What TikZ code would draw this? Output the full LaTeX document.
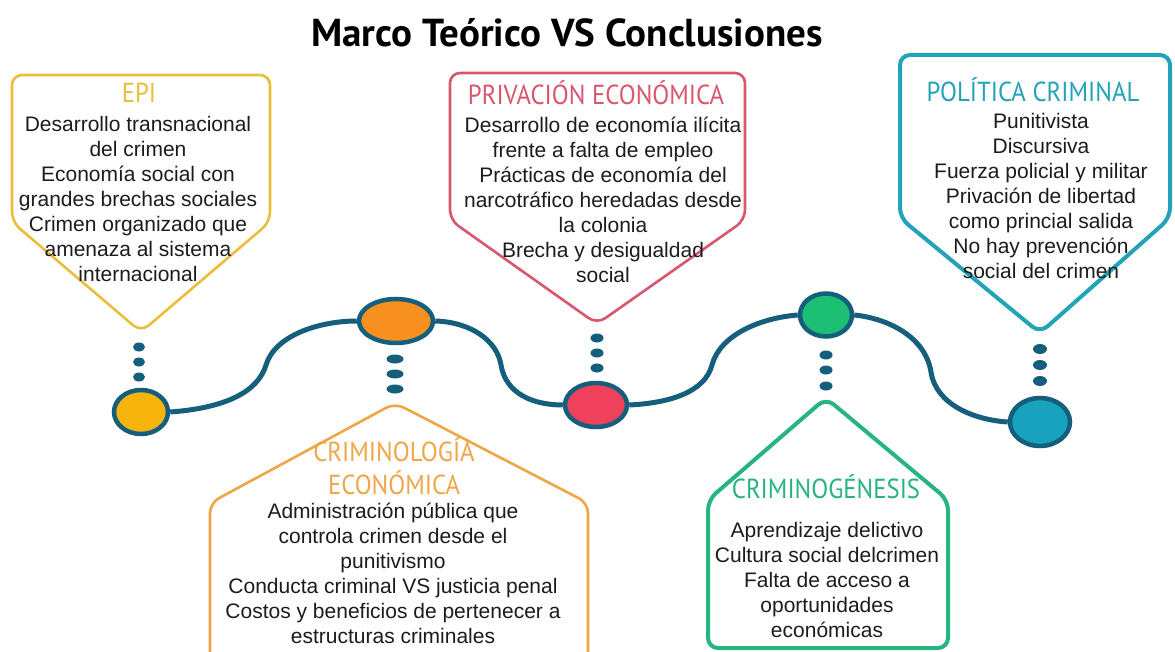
\documentclass[tikz,border=0pt]{standalone}
\usepackage{fontspec}
\setmainfont{Liberation Sans}
\newfontfamily\headfont{PT Sans}
\usepackage{xcolor}
\usepackage{tikz}
\usetikzlibrary{shapes.geometric}
\definecolor{wire}{HTML}{155E7C}
\definecolor{ink}{HTML}{1C1C1C}
\definecolor{gold}{HTML}{EBBE3A}
\definecolor{goldfill}{HTML}{F6B40C}
\definecolor{rose}{HTML}{D8566E}
\definecolor{rosefill}{HTML}{EF405C}
\definecolor{teal}{HTML}{22A3B7}
\definecolor{tealfill}{HTML}{17A2BF}
\definecolor{amber}{HTML}{F0A646}
\definecolor{amberfill}{HTML}{F7901E}
\definecolor{mint}{HTML}{27B47E}
\definecolor{mintfill}{HTML}{1CBF74}
\newcommand{\narrow}[1]{\scalebox{0.9}[1]{#1}}
\tikzset{
  wireline/.style={draw=wire, line width=5pt},
  knot/.style={ellipse, draw=wire, line width=4.5pt, inner sep=0pt},
  dotmark/.style={ellipse, fill=wire, inner sep=0pt, minimum width=12pt, minimum height=9pt},
  frame/.style={line width=2.6pt, rounded corners=10pt},
  head/.style={font=\headfont\fontsize{27.5}{29}\selectfont},
  body/.style={align=center, text=ink, inner sep=0pt, anchor=north,
    font=\fontsize{21}{25}\selectfont}
}

\begin{document}
\begin{tikzpicture}[x=1pt, y=-1pt]
  \useasboundingbox[fill=white] (0,0) rectangle (1175,652);
  \clip (0,0) rectangle (1175,652);

  \node[font=\headfont\bfseries\fontsize{39}{41}\selectfont] (title) at (567,33)
    {Marco Teórico VS Conclusiones};

  % boxes
  \draw[frame, draw=gold] (12,222) -- (12,75) -- (270,75) -- (270,222) -- (141,332) -- cycle;
  \draw[frame, draw=rose] (450,220) -- (450,73) -- (745,73) -- (745,220) -- (597,324) -- cycle;
  \draw[frame, draw=teal, line width=4pt] (900,218) -- (900,55) -- (1170,55) -- (1170,218) -- (1040,333) -- cycle;
  \draw[frame, draw=amber] (210,665) -- (210,503) -- (395,403) -- (588,503) -- (588,665);
  \draw[frame, draw=mint, line width=4pt] (708,648) -- (708,500) -- (826,398) -- (948,500) -- (948,648) -- cycle;

  % headings
  \node[head, text=gold] (hepi) at (139,93) {\narrow{EPI}};
  \node[head, text=rose] (hpriv) at (596,93) {\narrow{PRIVACIÓN ECONÓMICA}};
  \node[head, text=teal] (hpol) at (1033,90) {\narrow{POLÍTICA CRIMINAL}};
  \node[head, text=amber, align=center, font=\headfont\fontsize{27.5}{33}\selectfont] (hcrim) at (394,466)
    {\narrow{CRIMINOLOGÍA}\\\narrow{ECONÓMICA}};
  \node[head, text=mint] (hgen) at (826,487) {\narrow{CRIMINOGÉNESIS}};

  % texts
  \node[body] (bepi) at (138,116) {Desarrollo transnacional\\del crimen\\Economía social con\\grandes brechas sociales\\Crimen organizado que\\amenaza al sistema\\internacional};
  \node[body] (bpriv) at (603,117) {Desarrollo de economía ilícita\\frente a falta de empleo\\Prácticas de economía del\\narcotráfico heredadas desde\\la colonia\\Brecha y desigualdad\\social};
  \node[body] (bpol) at (1041,113) {Punitivista\\Discursiva\\Fuerza policial y militar\\Privación de libertad\\como princial salida\\No hay prevención\\social del crimen};
  \node[body] (bcrim) at (393,503) {Administración pública que\\controla crimen desde el\\punitivismo\\Conducta criminal VS justicia penal\\Costos y beneficios de pertenecer a\\estructuras criminales};
  \node[body] (bgen) at (827,522) {Aprendizaje delictivo\\Cultura social delcrimen\\Falta de acceso a\\oportunidades\\económicas};

  % timeline
  \node[knot, fill=goldfill, minimum width=54pt, minimum height=44pt] (ky) at (141,412) {};
  \node[knot, fill=amberfill, minimum width=74pt, minimum height=44pt] (ko) at (396,321) {};
  \node[knot, fill=rosefill, minimum width=62pt, minimum height=44pt] (kr) at (596,405) {};
  \node[knot, fill=mintfill, minimum width=52pt, minimum height=43pt] (kg) at (826,315) {};
  \node[knot, fill=tealfill, minimum width=60pt, minimum height=48pt] (kt) at (1040,422) {};

  \draw[wireline] (ky.east) .. controls (225,408) and (258,392) .. (266,365)
    .. controls (275,335) and (320,321) .. (ko.west);
  \draw[wireline] (ko.east) .. controls (470,322) and (497,340) .. (501,365)
    .. controls (506,395) and (535,405) .. (kr.west);
  \draw[wireline] (kr.east) .. controls (670,403) and (705,392) .. (712,365)
    .. controls (720,335) and (760,318) .. (kg.west);
  \draw[wireline] (kg.east) .. controls (885,318) and (925,335) .. (931,372)
    .. controls (936,405) and (975,420) .. (kt.west);

  % dots
  \foreach \y in {347,362,377} \node[dotmark] at (139,\y) {};
  \foreach \y in {359,374,389} \node[dotmark, minimum width=17pt] at (395,\y) {};
  \foreach \y in {338,353,368} \node[dotmark, minimum width=13pt] at (597,\y) {};
  \foreach \y in {355,370,386} \node[dotmark, minimum width=13pt] at (826,\y) {};
  \foreach \y in {349,365,381} \node[dotmark, minimum width=14pt, minimum height=10pt] at (1040,\y) {};
\end{tikzpicture}
\end{document}
